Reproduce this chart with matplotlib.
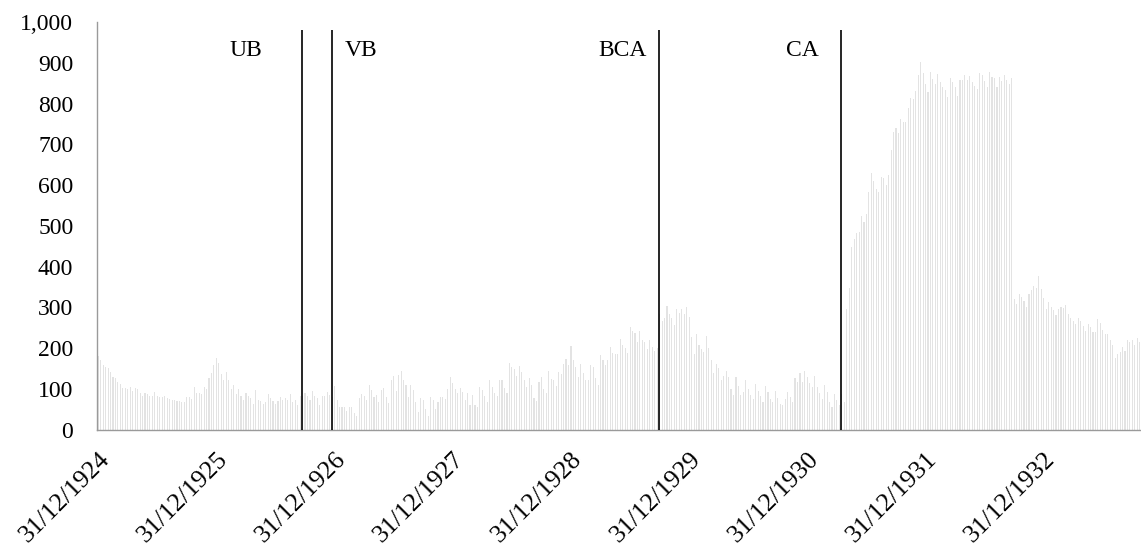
import matplotlib
matplotlib.use('Agg')
import matplotlib.pyplot as plt
from matplotlib.ticker import FuncFormatter
import numpy as np
import pandas as pd

plt.rcParams['font.family'] = ['Liberation Serif', 'DejaVu Serif']

vals_1925_26 = [
    180, 170, 160, 153, 151, 141, 129, 126, 117, 113,
    103, 103, 101, 104, 95, 103, 100, 91, 84, 90,
    88, 82, 82, 92, 82, 81, 81, 84, 78, 76,
    72, 72, 70, 70, 69, 68, 80, 80, 76, 106,
    90, 90, 88, 106, 100, 127, 139, 158, 176, 163,
    137, 121, 141, 122, 100, 109, 87, 100, 84, 72,
    90, 83, 78, 64, 97, 72, 70, 64, 68, 87,
    78, 70, 64, 70, 80, 74, 78, 74, 88, 68,
    74, 60, 82,
]
vals_ub_vb = [84, 91, 82, 72, 94, 82, 77, 62, 84, 84, 92, 86, 80]
vals_1927 = [
    107, 72, 55, 55, 55, 45, 57, 57, 42, 33,
    77, 88, 82, 72, 110, 98, 80, 86, 68, 98,
    102, 81, 65, 121, 131, 95, 135, 145, 123, 110,
    80, 109, 98, 69, 43, 77, 73, 51, 33, 81,
    72, 51, 67, 80, 81, 76, 100, 129, 115, 100,
    91, 103, 92, 74, 91, 61, 86, 61, 55, 104,
]
vals_1928_29 = [
    98, 82, 68, 123, 104, 90, 82, 123, 123, 103,
    89, 164, 155, 149, 133, 156, 141, 123, 104, 127,
    109, 78, 70, 117, 129, 101, 91, 144, 125, 121,
    108, 141, 137, 162, 174, 160, 205, 172, 153, 129,
    162, 140, 121, 123, 160, 154, 128, 110, 184, 172,
    159, 170, 204, 188, 185, 185, 223, 209, 200, 189,
    251, 242, 238, 216, 243, 221, 215, 197, 221, 203,
    194, 201, 284,
]
vals_bca_ca = [
    268, 274, 303, 284, 274, 257, 296, 287, 295, 284,
    302, 276, 227, 185, 235, 207, 199, 190, 231, 200,
    170, 140, 162, 151, 121, 131, 143, 129, 100, 86,
    129, 107, 86, 92, 121, 99, 86, 76, 113, 96,
    84, 68, 107, 92, 76, 68, 95, 77, 64, 60,
    76, 92, 80, 69, 127, 118, 140, 117, 145, 129,
    115, 104, 133, 104, 91, 76, 110, 92, 69, 57,
    88, 74, 61,
]
vals_1931_32 = [
    88, 68, 297, 347, 448, 468, 483, 484, 525, 509,
    529, 584, 629, 609, 591, 582, 621, 617, 601, 625,
    685, 731, 739, 729, 762, 756, 754, 788, 814, 811,
    830, 871, 903, 874, 848, 829, 878, 860, 848, 873,
    852, 841, 834, 817, 863, 852, 841, 819, 858, 858,
    871, 858, 868, 854, 844, 836, 875, 871, 856, 840,
    877, 866, 863, 840, 866, 856, 870, 858, 848, 862,
]
vals_1932_33 = [
    321, 309, 333, 325, 317, 301, 332, 343, 352, 348,
    376, 345, 324, 295, 313, 302, 294, 282, 297, 301,
    298, 305, 283, 274, 268, 260, 275, 268, 254, 243,
    260, 253, 241, 239, 272, 261, 245, 234, 235, 219,
    207, 176, 185, 190, 202, 192, 221, 216, 219, 207,
    224, 216,
]
values = (vals_1925_26 + vals_ub_vb + vals_1927 + vals_1928_29
          + vals_bca_ca + vals_1931_32 + vals_1932_33)

# events marked with vertical lines
event_names = ['UB', 'VB', 'BCA', 'CA']
event_dates = ['1926-09-19', '1926-12-23', '1929-09-28', '1931-04-12']
# label offset from the line, in points (negative = label to the left)
event_offsets = [-28, 9, -9, -16]

# observation dates: 31/12/1924, then the 7th, 15th, 22nd and last day of each month
dates = [pd.Timestamp('1924-12-31')]
for month in pd.period_range('1925-01', '1933-12', freq='M'):
    for d in (7, 15, 22, month.days_in_month):
        dates.append(pd.Timestamp(month.year, month.month, d))
dates = dates[:len(values)]

idx = np.arange(len(values))
date_num = np.array([d.value for d in dates], dtype=float)

fig = plt.figure(figsize=(11.41, 5.51), dpi=100)
ax = fig.add_axes([0.085, 0.22, 0.915, 0.74])

ax.bar(idx, values, width=0.45, color='#e3e3e3', linewidth=0)

ymax = 1000
for name, d, off in zip(event_names, event_dates, event_offsets):
    pos = np.interp(pd.Timestamp(d).value, date_num, idx)
    ax.vlines(pos, 0, ymax * 0.98, color='black', linewidth=1.2, zorder=3)
    ax.annotate(name, (pos, 930), xytext=(off, 0), textcoords='offset points',
                ha='left' if off > 0 else 'right', va='center', fontsize=17)

ax.set_xlim(-0.5, len(values) - 0.5)
ax.set_ylim(0, ymax)
ax.set_yticks(np.arange(0, ymax + 1, 100))
ax.yaxis.set_major_formatter(FuncFormatter(lambda v, p: f'{int(v):,}'))

tick_pos = [i for i, d in enumerate(dates) if d.month == 12 and d.day == 31]
tick_lab = [dates[i].strftime('%d/%m/%Y') for i in tick_pos]
ax.set_xticks(tick_pos)
ax.set_xticklabels(tick_lab, rotation=45, ha='right', rotation_mode='anchor')

ax.tick_params(axis='y', length=0, pad=17, labelsize=17)
ax.tick_params(axis='x', length=0, pad=13, labelsize=18.5)

for side in ('top', 'right'):
    ax.spines[side].set_visible(False)
for side in ('left', 'bottom'):
    ax.spines[side].set_color('#9a9a9a')
    ax.spines[side].set_linewidth(1.0)

fig.savefig('out.png', dpi=100)
